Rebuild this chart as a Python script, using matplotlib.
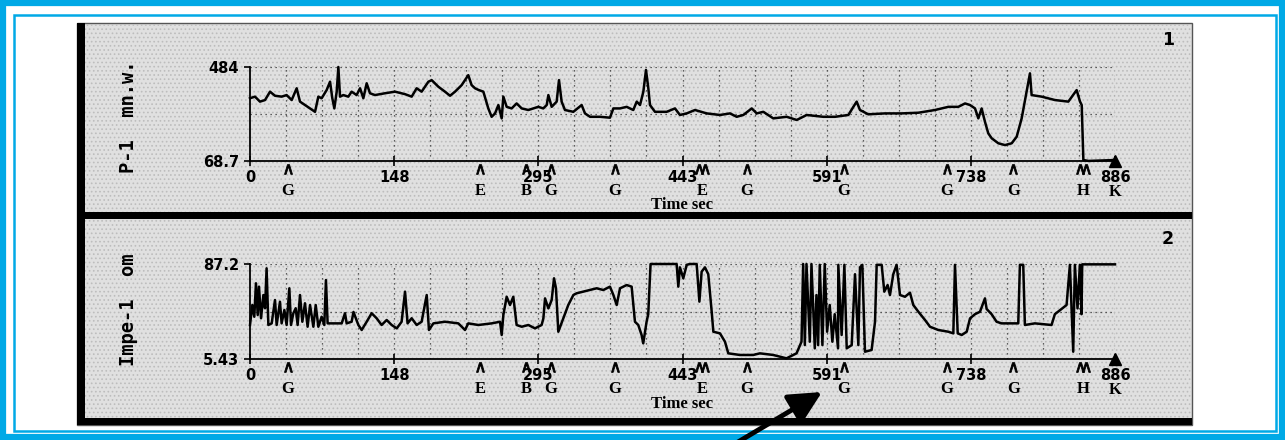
import matplotlib
matplotlib.use('Agg')
import matplotlib.pyplot as plt
import matplotlib.transforms as mtransforms
from matplotlib.patches import Rectangle
import numpy as np

W, H = 1285, 440

# ---- data ----
# panel 1: P-1 (mn.w.)
p1_t = [0, 5.1, 10.2, 15.4, 20.5, 25.6, 32.4, 37.5, 42.7, 47.8, 51.2, 56.3, 61.5, 66.6,
        70, 73.4, 78.5, 82, 84.3, 86.4, 88.8, 90.5, 92.2, 95.6, 100.7, 104.1, 109.2,
        112.7, 116.1, 119.5, 122.9, 128, 138.3, 148.5, 158.8, 165.6, 170.7, 175.8,
        182.7, 186.1, 192.9, 199.7, 204.9, 210, 216.8, 223.6, 227, 230.5, 233.9, 239,
        244.1, 247.5, 251, 254.4, 257.8, 259.5, 262.9, 268, 273.1, 278.3, 285.1, 295.3,
        300.4, 303.9, 305.6, 309, 314.1, 316.5, 319.2, 322.6, 331.2, 339.7, 343.1,
        348.3, 358.5, 368.7, 372.2, 379, 385.8, 392.6, 396.1, 399.5, 402.9, 405.6,
        408, 409.7, 414.8, 426.8, 435.3, 440.4, 447.3, 455.8, 467.8, 481.4, 491.7,
        498.5, 505.3, 513.9, 519, 525.8, 536, 549.7, 560, 570.2, 587.2, 599.2, 612.9,
        618, 621.4, 624.8, 633.3, 650.4, 667.5, 684.6, 701.6, 715.3, 725.5, 732.4,
        737.5, 742.6, 746, 749.4, 752.8, 756.2, 759.7, 766.5, 773.3, 780.2, 785.3,
        790.4, 795.5, 798.9, 800.6, 810.9, 824.5, 838.2, 846.7, 850.2, 851.9, 853.6,
        858.7, 886]
p1_v = [346, 353, 331, 338, 375, 357, 353, 360, 338, 390, 331, 316, 301, 286,
        353, 346, 382, 419, 346, 301, 375, 484, 353, 360, 353, 375, 360,
        390, 346, 412, 368, 360, 368, 375, 364, 353, 390, 375,
        419, 426, 397, 375, 357, 375, 404, 448, 404, 390, 383, 375,
        301, 264, 279, 316, 257, 353, 308, 301, 323, 301, 294, 308,
        301, 316, 360, 308, 331, 426, 331, 294, 286, 316, 279,
        264, 264, 260, 301, 301, 308, 294, 331, 316, 375, 471,
        390, 316, 286, 286, 301, 272, 279, 294, 279, 272, 279,
        264, 272, 301, 279, 286, 257, 264, 250, 272, 264, 264, 272,
        308, 331, 294, 275, 279, 279, 282, 294, 308, 308, 323,
        316, 301, 257, 301, 242, 191, 169, 147, 139, 147, 176,
        257, 375, 456, 360, 353, 338, 331, 382, 331, 316, 73,
        69, 73]

# panel 2: Impe-1 (om)
p2_t = [0, 2.4, 4.4, 6.1, 7.9, 9.2, 11.3, 13.7, 15.4, 17, 18.8, 22.2, 25.6, 27.3,
        30.7, 32.4, 35.2, 37.5, 40.3, 42, 44.4, 46.8, 48.8, 51.2, 53.6, 56.3, 59,
        61.5, 64.9, 67.3, 70, 73.4, 76.1, 77.8, 79.5, 83.6, 93.9, 97.3, 99, 104.1,
        106, 111, 114.4, 119.5, 124.6, 129.7, 134.8, 140, 145.1, 150.3, 155.3, 158.8,
        161.4, 165.6, 170.7, 175.8, 181, 183.3, 187.8, 199.7, 213.4, 220.2, 223.6,
        233.9, 247.5, 256.1, 257.8, 259.5, 262.9, 266.3, 269.7, 273.1, 278.3, 285.1,
        291.9, 298.7, 300.5, 302.2, 305.6, 309, 311.4, 313.4, 315.8, 320.9, 326,
        331.2, 334.6, 341.4, 348.3, 355.1, 361.9, 368.7, 372.2, 375.6, 379, 385.8,
        390.9, 394.3, 397.7, 401.1, 402.8, 406.2, 407.9, 410.3, 437, 438.7, 440.4,
        443.8, 447.3, 450.7, 457.5, 460.3, 462.6, 466, 469.4, 472.9, 474.6, 481.4,
        486.5, 489.9, 501.8, 515.4, 522.3, 535.9, 549.5, 559.8, 564.9, 566.6, 568.3,
        570, 573.4, 575.1, 578.5, 580.2, 581.9, 583.6, 586.3, 588.7, 591.1, 593.8,
        596.5, 598.9, 602.3, 602.6, 606, 608.8, 611.2, 616.3, 619.7, 623.1, 624.8,
        627.2, 629.9, 636.7, 640.2, 641.9, 647, 649.7, 653.1, 655.5, 658.9, 662.3,
        665.8, 670.9, 676, 679.4, 684.6, 691.4, 696.5, 705, 715.3, 720.4, 722.1,
        724.9, 729, 734.1, 737.5, 742.6, 747.7, 752.8, 754.5, 759.6, 764.7, 769.8,
        786.9, 788.6, 792, 793.7, 803.9, 821, 824.4, 831.2, 836.4, 839.8, 841.5,
        843.2, 844.9, 847.6, 850, 851.7, 852.4, 886]
p2_v = [34.7, 51.9, 41.8, 70.6, 43.3, 67.7, 40.5, 60.5, 49.1, 83.5, 34.7, 36.1, 56.2, 34.7,
        54.7, 36.1, 47.6, 34.7, 66.3, 34.7, 44.8, 49.1, 34.7, 60.5, 37.5, 53.4, 33.2,
        51.9, 33.2, 51.9, 33.2, 41.8, 34.7, 73.4, 36.1, 36.1, 36.1, 44.8, 36.1, 37.5,
        45.9, 34.7, 30.4, 37.5, 44.8, 40.5, 34.7, 39, 34.7, 31.8, 37.5, 63.4,
        36.1, 40.5, 34.7, 37.5, 60.5, 30.4, 36.1, 37.5, 36.1, 30.4, 36.1,
        34.7, 36.1, 37.5, 26.1, 43.3, 59, 51.9, 59, 34.7, 33.2, 34.7,
        31.8, 34.7, 40.4, 57.6, 49, 56.2, 74.9, 66.3, 28.9, 40.4, 51.9,
        60.5, 62, 63.4, 64.8, 66.3, 64.8, 67.7, 60.5, 51.9, 66.3, 69.1,
        67.7, 37.5, 34.7, 26.1, 18.9, 37.5, 44, 87.2, 87.2, 67.7, 84.3,
        74.9, 86.5, 87.2, 87.2, 54.8, 80.6, 84.3, 78.4, 46.1, 28.9, 27.5,
        20.3, 10.3, 8.9, 8.9, 10.3, 8.9, 6, 10.3, 20.3, 87.2, 17.4,
        87.2, 20.3, 87.2, 14.6, 60.5, 17.4, 86.5, 17.4, 87.2, 28.9, 51.9,
        20.3, 44, 14.6, 86.5, 26.1, 86.5, 14.6, 17.4, 78.4, 17.4, 84.3,
        86.5, 11.7, 13.2, 37.5, 86.5, 86.5, 63.4, 69.1, 60.5, 78.4, 86.5,
        60.5, 59, 62.5, 51.9, 46.1, 39, 33.2, 30.4, 28.9, 27.5, 86.5,
        27.5, 26.1, 28.9, 40.4, 44, 46.1, 57.6, 48.5, 44, 37.5, 36.1,
        36.1, 86.5, 86.5, 34.7, 36.1, 34.7, 44, 48.5, 51.9, 86.5, 49,
        11.7, 86.5, 49, 86.5, 44, 86.9, 86.9]

tick_labels = ['0', '148', '295', '443', '591', '738', '886']
t_max = 886

# event marks under the time axis
event_t = [39, 236, 283, 308, 374, 463, 509, 608, 714, 782, 853]
event_lbl = ['G', 'E', 'B', 'G', 'G', 'E', 'G', 'G', 'G', 'G', 'H']
event_double = [False, False, False, False, False, True, False, False, False, False, True]
end_lbl = 'K'

panels = [
    dict(t=p1_t, v=p1_v, lo=68.7, hi=484, ylbls=['68.7', '484'],
         ylabel='P-1  mn.w.', num='1'),
    dict(t=p2_t, v=p2_v, lo=5.43, hi=87.2, ylbls=['5.43', '87.2'],
         ylabel='Impe-1  om', num='2'),
]
# pixel layout of each panel: axes top, axes bottom, y-label centre, number y
layout = [(67, 161, 117, 40), (264, 359, 310, 239)]

BLUE = '#00a9e6'

fig = plt.figure(figsize=(W / 100, H / 100), dpi=100)


def fx(x):
    return x / W


def fy(y):
    return 1 - y / H


def rect(x0, y0, x1, y1, **kw):
    kw.setdefault('zorder', -5)
    r = Rectangle((fx(x0), fy(y1)), fx(x1) - fx(x0), fy(y0) - fy(y1),
                  transform=fig.transFigure, **kw)
    fig.patches.append(r)
    return r


# outer blue double frame
rect(3, 3, 1282, 437, fill=False, ec=BLUE, lw=4.5)
rect(14, 15, 1276, 431, fill=False, ec=BLUE, lw=1.8)

# grey stippled panel with black bars
rect(77, 23, 1192, 425, fc='#e0e0e0', ec='#555555', lw=1)
plt.rcParams['hatch.linewidth'] = 0.7
rect(85, 24, 1191, 424, fill=False, ec='#bdbdbd', lw=0, hatch='....')
rect(77, 23, 85, 425, fc='black', ec='none')
rect(77, 212, 1192, 219, fc='black', ec='none')
rect(77, 418, 1192, 425, fc='black', ec='none')

dots = (0, (1, 3))
num_font = dict(family='DejaVu Sans', weight='bold', fontsize=10.5)
ser_font = dict(family='Liberation Serif', weight='bold')

for p, (top, bot, ylc, numy) in zip(panels, layout):
    ax = fig.add_axes([fx(250), fy(bot), fx(1115) - fx(250), fy(top) - fy(bot)])
    ax.set_facecolor('none')
    ax.set_xlim(0, t_max)
    ax.set_ylim(p['lo'], p['hi'])
    for s in ['top', 'right']:
        ax.spines[s].set_visible(False)
    for s in ['left', 'bottom']:
        ax.spines[s].set_linewidth(1.3)
        ax.spines[s].set_color('black')

    for g in np.linspace(0, t_max, 25)[1:]:
        ax.axvline(g, ls=dots, color='#333', lw=0.9, zorder=1)
    ax.axhline(p['hi'], ls=dots, color='#333', lw=0.9, zorder=1)
    ax.axhline((p['lo'] + p['hi']) / 2, ls=dots, color='#333', lw=0.9, zorder=1)

    ax.plot(p['t'], p['v'], color='black', lw=1.8, clip_on=False, zorder=3)

    ax.set_xticks(np.linspace(0, t_max, 7))
    ax.set_xticklabels(tick_labels, **num_font)
    ax.tick_params(axis='x', direction='inout', length=7, width=1.2, pad=3)
    ax.set_yticks([p['lo'], p['hi']])
    ax.set_yticklabels(p['ylbls'], **num_font)
    ax.tick_params(axis='y', direction='out', length=4, width=1.2, pad=4)

    # carets and letters of the event marks
    trans = mtransforms.blended_transform_factory(ax.transData, ax.transAxes)
    for t, dbl, lbl in zip(event_t, event_double, event_lbl):
        xs = [t - 3, t + 3] if dbl else [t]
        ax.plot(xs, [-0.08] * len(xs), transform=trans, ls='none',
                marker=r'$\wedge$', ms=7, mew=0.6, color='black', clip_on=False)
        ax.text(t, -0.32, lbl, transform=trans, ha='center', va='center',
                fontsize=12, **ser_font)
    ax.plot([t_max], [p['lo']], marker='^', ms=9, color='black', clip_on=False, zorder=4)
    ax.text(t_max, -0.33, end_lbl, transform=trans, ha='center', va='center',
            fontsize=12, **ser_font)
    ax.text(0.5, -0.47, 'Time sec', transform=ax.transAxes, ha='center',
            va='center', fontsize=12, **ser_font)

    fig.text(fx(128), fy(ylc), p['ylabel'], rotation=90, ha='center', va='center',
             family='DejaVu Sans Mono', weight='bold', fontsize=13.5)
    fig.text(fx(1168), fy(numy), p['num'], ha='center', va='center',
             family='DejaVu Sans', weight='bold', fontsize=12.5)

# pointer arrow at the bottom
arrow = fig.axes[1].annotate('', xy=(822, H - 392), xytext=(738, H - 442),
                             xycoords='figure pixels', textcoords='figure pixels',
                             annotation_clip=False,
                             arrowprops=dict(arrowstyle='-|>,head_length=0.9,head_width=0.45',
                                             lw=3.5, color='black', mutation_scale=22,
                                             shrinkA=0, shrinkB=0))
arrow.set_zorder(10)

fig.savefig('out.png', dpi=100)
